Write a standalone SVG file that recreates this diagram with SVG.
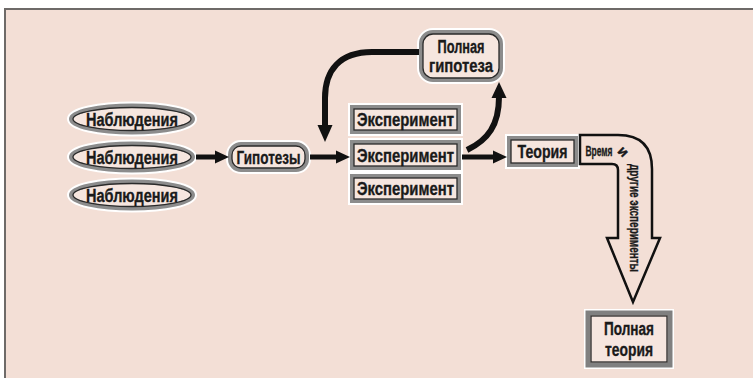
<svg xmlns="http://www.w3.org/2000/svg" width="753" height="378" viewBox="0 0 753 378">
<style>
.t{font-family:"Liberation Sans",Arial,sans-serif;font-weight:bold;font-size:18px;fill:#1a1a1a;stroke:#1a1a1a;stroke-width:0.35;text-anchor:middle}
.s{font-size:14.5px}
.halo{fill:none;stroke:#ffffff;stroke-width:8}
.ring{fill:#f6e6df;stroke:#8c8c8c;stroke-width:4}
.inner{fill:none;stroke:#2a2a2a;stroke-width:1.3}
.ar{stroke:#111;stroke-width:5;fill:none}
.cv{stroke:#111;stroke-width:6;fill:none}
.head{fill:#111}
</style>
<rect x="5" y="9" width="748" height="369" fill="#f3dfd6"/>
<path d="M5 378 V9 H753" fill="none" stroke="#6e6a68" stroke-width="2"/>

<g id="obs1">
<ellipse cx="132" cy="119" rx="61" ry="13.5" class="halo"/>
<ellipse cx="132" cy="119" rx="61" ry="13.5" class="ring"/>
<ellipse cx="132" cy="119" rx="59" ry="11.5" class="inner"/>
<text x="132" y="125.5" class="t" textLength="92" lengthAdjust="spacingAndGlyphs">Наблюдения</text>
</g>
<g id="obs2">
<ellipse cx="132" cy="157" rx="61" ry="13.5" class="halo"/>
<ellipse cx="132" cy="157" rx="61" ry="13.5" class="ring"/>
<ellipse cx="132" cy="157" rx="59" ry="11.5" class="inner"/>
<text x="132" y="163.5" class="t" textLength="92" lengthAdjust="spacingAndGlyphs">Наблюдения</text>
</g>
<g id="obs3">
<ellipse cx="132" cy="195" rx="61" ry="13.5" class="halo"/>
<ellipse cx="132" cy="195" rx="61" ry="13.5" class="ring"/>
<ellipse cx="132" cy="195" rx="59" ry="11.5" class="inner"/>
<text x="132" y="201.5" class="t" textLength="92" lengthAdjust="spacingAndGlyphs">Наблюдения</text>
</g>

<g id="hyp">
<rect x="230" y="144" width="77" height="26" rx="11" class="halo"/>
<rect x="230" y="144" width="77" height="26" rx="11" class="ring"/>
<rect x="232" y="146" width="73" height="22" rx="9" class="inner"/>
<text x="268.5" y="163.5" class="t" textLength="64" lengthAdjust="spacingAndGlyphs">Гипотезы</text>
</g>

<g id="exp1">
<rect x="352" y="107" width="107" height="25" class="halo"/>
<rect x="352" y="107" width="107" height="25" class="ring"/>
<rect x="354" y="109" width="103" height="21" class="inner"/>
<text x="405.5" y="126" class="t" textLength="97" lengthAdjust="spacingAndGlyphs">Эксперимент</text>
</g>
<g id="exp2">
<rect x="352" y="142" width="107" height="26" class="halo"/>
<rect x="352" y="142" width="107" height="26" class="ring"/>
<rect x="354" y="144" width="103" height="22" class="inner"/>
<text x="405.5" y="161.5" class="t" textLength="97" lengthAdjust="spacingAndGlyphs">Эксперимент</text>
</g>
<g id="exp3">
<rect x="352" y="176" width="107" height="25" class="halo"/>
<rect x="352" y="176" width="107" height="25" class="ring"/>
<rect x="354" y="178" width="103" height="21" class="inner"/>
<text x="405.5" y="195" class="t" textLength="97" lengthAdjust="spacingAndGlyphs">Эксперимент</text>
</g>

<g id="fullhyp">
<rect x="421" y="32" width="80" height="48" rx="12" class="halo"/>
<rect x="421" y="32" width="80" height="48" rx="12" class="ring"/>
<rect x="423" y="34" width="76" height="44" rx="10" class="inner"/>
<text x="461" y="52.5" class="t" textLength="47" lengthAdjust="spacingAndGlyphs">Полная</text>
<text x="461" y="71.5" class="t" textLength="64" lengthAdjust="spacingAndGlyphs">гипотеза</text>
</g>

<g id="theory">
<rect x="509" y="138" width="67" height="27" class="halo"/>
<rect x="509" y="138" width="67" height="27" class="ring"/>
<rect x="511" y="140" width="63" height="23" class="inner"/>
<text x="542.5" y="158" class="t" textLength="50" lengthAdjust="spacingAndGlyphs">Теория</text>
</g>

<g id="fulltheory">
<rect x="588" y="313" width="82" height="52" class="halo"/>
<rect x="588" y="313" width="82" height="52" fill="#f6e6df" stroke="#808080" stroke-width="5"/>
<rect x="591" y="316" width="76" height="46" class="inner"/>
<text x="629" y="334.5" class="t" textLength="50" lengthAdjust="spacingAndGlyphs">Полная</text>
<text x="629" y="355.5" class="t" textLength="48" lengthAdjust="spacingAndGlyphs">теория</text>
</g>

<g id="connectors">
<line x1="196" y1="157" x2="216" y2="157" class="ar"/>
<polygon points="229,157 215,150.5 215,163.5" class="head"/>
<line x1="310" y1="157" x2="337" y2="157" class="ar"/>
<polygon points="350,157 336,150.5 336,163.5" class="head"/>
<line x1="462" y1="157" x2="494" y2="157" class="ar"/>
<polygon points="507,157 493,150.5 493,163.5" class="head"/>
<path d="M467 150 C488 140 499 125 499 97" class="cv"/>
<polygon points="499,82 491.5,98 506.5,98" class="head"/>
<path d="M419 52 L372 52 C340 52 325 70 325 98 L325 125" class="cv"/>
<polygon points="325,142 317.5,125 332.5,125" class="head"/>
<path d="M580 135 L618 135 Q652 135 652 169 L652 238 L660 238 L633 302 L607 238 L618 238 L618 170 Q618 164 612 164 L580 164 Z" fill="#f3dfd6" stroke="#111" stroke-width="2.5" stroke-linejoin="miter"/>
<text x="599" y="155.5" class="t s" textLength="27" lengthAdjust="spacingAndGlyphs">Время</text>
<text x="0" y="0" class="t s" transform="translate(620,155) rotate(45)">и</text>
<text x="0" y="0" class="t s" transform="translate(630,218) rotate(90)" textLength="108" lengthAdjust="spacingAndGlyphs">другие эксперименты</text>
</g>
</svg>
